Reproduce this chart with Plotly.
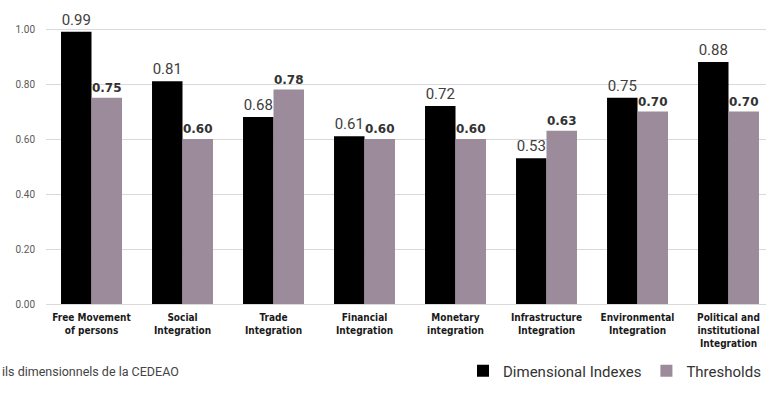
import plotly.graph_objects as go

categories = ["Free Movement<br>of persons", "Social<br>Integration", "Trade<br>Integration",
              "Financial<br>Integration", "Monetary<br>integration", "Infrastructure<br>Integration",
              "Environmental<br>Integration", "Political and<br>institutional<br>Integration"]
dimensional_indexes = [0.99, 0.81, 0.68, 0.61, 0.72, 0.53, 0.75, 0.88]
thresholds = [0.75, 0.60, 0.78, 0.60, 0.60, 0.63, 0.70, 0.70]
y_ticks = [0.0, 0.2, 0.4, 0.6, 0.8, 1.0]
caption = "ils dimensionnels de la CEDEAO"

W, H = 766, 407
ml, mr, mt, mb = 46, 0, 12, 103
pw = W - ml - mr
ph = H - mt - mb
unit = 91.0

fig = go.Figure()
fig.add_trace(go.Bar(
    x=list(range(len(categories))), y=dimensional_indexes, name="Dimensional Indexes",
    marker=dict(color="#000000", line=dict(width=0)),
    text=[f"{v:.2f}" for v in dimensional_indexes], textposition="outside",
    textfont=dict(family="Roboto, Arial, sans-serif", size=15, color="#404040"),
    cliponaxis=False,
))
fig.add_trace(go.Bar(
    x=list(range(len(categories))), y=thresholds, name="Thresholds",
    marker=dict(color="#9B8B9B", line=dict(width=0)),
    text=[f"<b>{v:.2f}</b>" for v in thresholds], textposition="outside",
    textfont=dict(family="DejaVu Sans, Arial, sans-serif", size=12, color="#333333"),
    cliponaxis=False,
))

fig.update_layout(
    width=W, height=H,
    margin=dict(l=ml, r=mr, t=mt, b=mb, autoexpand=False),
    paper_bgcolor="white", plot_bgcolor="white",
    barmode="group", bargap=0.33, bargroupgap=0,
    legend=dict(orientation="h", x=1.0, xanchor="right", y=-67 / ph, yanchor="middle",
                font=dict(family="Roboto, sans-serif", size=15, color="#333333"),
                itemsizing="constant", traceorder="normal", itemwidth=30),
    xaxis=dict(
        tickmode="array", tickvals=list(range(len(categories))), ticktext=categories,
        range=[-0.5, -0.5 + pw / unit], showgrid=False, zeroline=False,
        showline=True, linecolor="#D9D9D9", linewidth=1, ticks="", automargin=False,
        ticklabelstandoff=4,
        tickfont=dict(family="DejaVu Sans Condensed, Liberation Sans Narrow, sans-serif",
                      size=10, color="#1a1a1a", weight=600),
    ),
    yaxis=dict(
        range=[0, 1.062], tickmode="array", tickvals=y_ticks,
        ticktext=[f"{v:.2f}" for v in y_ticks],
        showgrid=True, gridcolor="#D9D9D9", gridwidth=1, zeroline=False, automargin=False,
        tickfont=dict(family="Roboto, sans-serif", size=10, color="#595959"),
        ticks="", ticklabelstandoff=10,
    ),
    annotations=[dict(
        text=caption, xref="paper", yref="paper", x=-ml / pw, y=-67 / ph,
        xanchor="left", yanchor="middle", showarrow=False,
        font=dict(family="Roboto, sans-serif", size=12.5, color="#444444"),
    )],
)

fig.write_html("out.html", config={"displayModeBar": False},
               post_script="document.body.style.margin='0';")
